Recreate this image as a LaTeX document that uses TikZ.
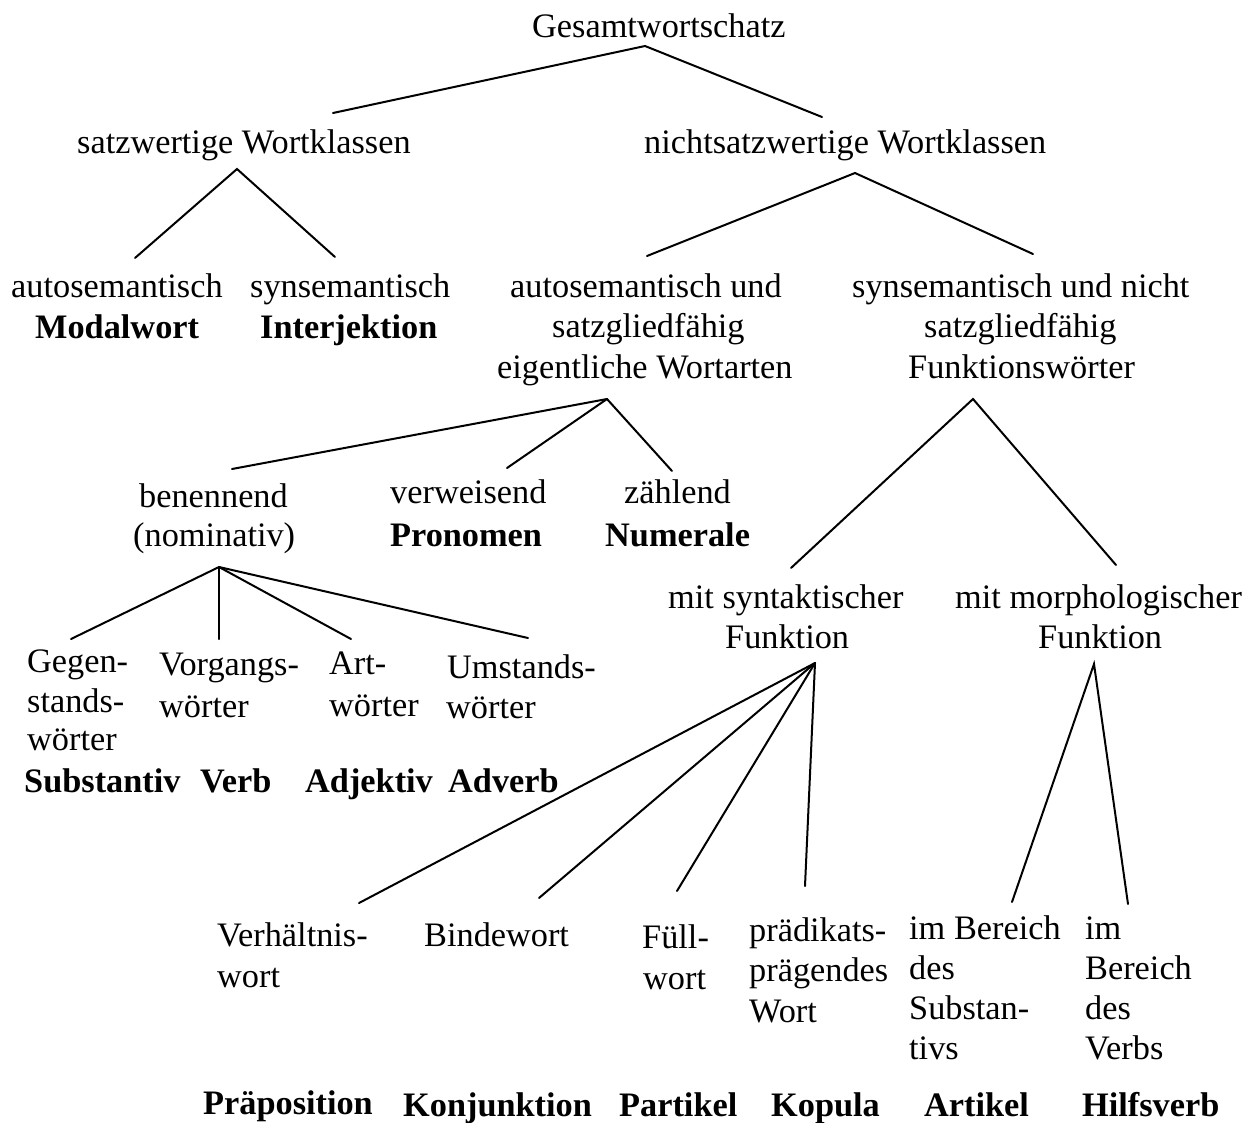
\documentclass[tikz,border=0pt]{standalone}
\usepackage{fontspec}
\setmainfont{Liberation Serif}
\begin{document}
\begin{tikzpicture}[x=1pt,y=-1pt,
  lbl/.style={inner sep=0pt, anchor=base west, font=\fontsize{34.3}{41}\selectfont},
  bld/.style={inner sep=0pt, anchor=base west, font=\fontsize{34.3}{41}\selectfont\bfseries},
  branch/.style={line width=2pt, line cap=round}]
\useasboundingbox[fill=white] (0,0) rectangle (1258,1122);

% ---------- texts ----------
\node[lbl] (gesamt) at (532,37) {Gesamtwortschatz};
\node[lbl] (satz) at (77,153) {satzwertige Wortklassen};
\node[lbl] (nicht) at (644,153) {nichtsatzwertige Wortklassen};

\node[lbl] (autoA) at (11,297) {autosemantisch};
\node[bld] (modal) at (35,338) {Modalwort};
\node[lbl] (synA) at (250,297) {synsemantisch};
\node[bld] (inter) at (260,338) {Interjektion};

\node[lbl] (eig1) at (510,297) {autosemantisch und};
\node[lbl] (eig2) at (552,337) {satzgliedfähig};
\node[lbl] (eig3) at (497,378) {eigentliche Wortarten};

\node[lbl] (fkt1) at (852,297) {synsemantisch und nicht};
\node[lbl] (fkt2) at (924,337) {satzgliedfähig};
\node[lbl] (fkt3) at (908,378) {Funktionswörter};

\node[lbl] (ben1) at (139,507) {benennend};
\node[lbl] (ben2) at (133,546) {(nominativ)};
\node[lbl] (verw) at (390,503) {verweisend};
\node[bld] (pron) at (390,546) {Pronomen};
\node[lbl] (zaehl) at (624,503) {zählend};
\node[bld] (num) at (605,546) {Numerale};

\node[lbl] (geg1) at (27,672) {Gegen-};
\node[lbl] (geg2) at (27,712) {stands-};
\node[lbl] (geg3) at (27,750) {wörter};
\node[bld] (subst) at (24,792) {Substantiv};
\node[lbl] (vor1) at (159,675) {Vorgangs-};
\node[lbl] (vor2) at (159,717) {wörter};
\node[bld] (verb) at (200,792) {Verb};
\node[lbl] (art1) at (329,674) {Art-};
\node[lbl] (art2) at (329,716) {wörter};
\node[bld] (adj) at (305,792) {Adjektiv};
\node[lbl] (um1) at (447,678) {Umstands-};
\node[lbl] (um2) at (446,718) {wörter};
\node[bld] (adv) at (448,792) {Adverb};

\node[lbl] (syn1) at (668,608) {mit syntaktischer};
\node[lbl] (syn2) at (725,648) {Funktion};
\node[lbl] (mor1) at (955,608) {mit morphologischer};
\node[lbl] (mor2) at (1038,648) {Funktion};

\node[lbl] (verh1) at (217,946) {Verhältnis-};
\node[lbl] (verh2) at (217,987) {wort};
\node[lbl] (binde) at (424,946) {Bindewort};
\node[lbl] (fuell1) at (642,948) {Füll-};
\node[lbl] (fuell2) at (643,989) {wort};
\node[lbl] (praed1) at (749,941) {prädikats-};
\node[lbl] (praed2) at (749,981) {prägendes};
\node[lbl] (praed3) at (749,1022) {Wort};
\node[lbl] (bs1) at (909,939) {im Bereich};
\node[lbl] (bs2) at (909,979) {des};
\node[lbl] (bs3) at (909,1019) {Substan-};
\node[lbl] (bs4) at (909,1059) {tivs};
\node[lbl] (bv1) at (1085,939) {im};
\node[lbl] (bv2) at (1085,979) {Bereich};
\node[lbl] (bv3) at (1085,1019) {des};
\node[lbl] (bv4) at (1085,1059) {Verbs};

\node[bld] (praep) at (203,1114) {Präposition};
\node[bld] (konj) at (403,1116) {Konjunktion};
\node[bld] (part) at (619,1116) {Partikel};
\node[bld] (kop) at (771,1116) {Kopula};
\node[bld] (artk) at (924,1116) {Artikel};
\node[bld] (hilf) at (1082,1116) {Hilfsverb};

% ---------- branch points ----------
\coordinate (gesamt-f) at (645,46);
\coordinate (satz-h) at (333,113);
\coordinate (nicht-h) at (822,117);
\coordinate (satz-f) at (237,169);
\coordinate (autoA-h) at (135,258);
\coordinate (synA-h) at (335,257);
\coordinate (nicht-f) at (855,173);
\coordinate (eig-h) at (647,256);
\coordinate (fkt-h) at (1033,254);
\coordinate (eig-f) at (607,399);
\coordinate (ben-h) at (232,469);
\coordinate (verw-h) at (507,468);
\coordinate (zaehl-h) at (672,471);
\coordinate (fkt-f) at (973,399);
\coordinate (syn-h) at (791,568);
\coordinate (mor-h) at (1116,565);
\coordinate (ben-f) at (219,567);
\coordinate (geg-h) at (71,639);
\coordinate (vor-h) at (219,639);
\coordinate (art-h) at (351,639);
\coordinate (um-h) at (528,638);
\coordinate (syn-f) at (815,663);
\coordinate (verh-h) at (359,903);
\coordinate (binde-h) at (539,898);
\coordinate (fuell-h) at (677,891);
\coordinate (praed-h) at (805,886);
\coordinate (mor-f) at (1094,664);
\coordinate (bs-h) at (1012,902);
\coordinate (bv-h) at (1128,904);

% ---------- connectors ----------
\draw[branch] (satz-h) -- (gesamt-f) -- (nicht-h);
\draw[branch] (autoA-h) -- (satz-f) -- (synA-h);
\draw[branch] (eig-h) -- (nicht-f) -- (fkt-h);
\draw[branch] (eig-f) -- (ben-h);
\draw[branch] (eig-f) -- (verw-h);
\draw[branch] (eig-f) -- (zaehl-h);
\draw[branch] (syn-h) -- (fkt-f) -- (mor-h);
\draw[branch] (ben-f) -- (geg-h);
\draw[branch] (ben-f) -- (vor-h);
\draw[branch] (ben-f) -- (art-h);
\draw[branch] (ben-f) -- (um-h);
\draw[branch] (syn-f) -- (verh-h);
\draw[branch] (syn-f) -- (binde-h);
\draw[branch] (syn-f) -- (fuell-h);
\draw[branch] (syn-f) -- (praed-h);
\draw[branch] (bs-h) -- (mor-f) -- (bv-h);
\end{tikzpicture}
\end{document}
